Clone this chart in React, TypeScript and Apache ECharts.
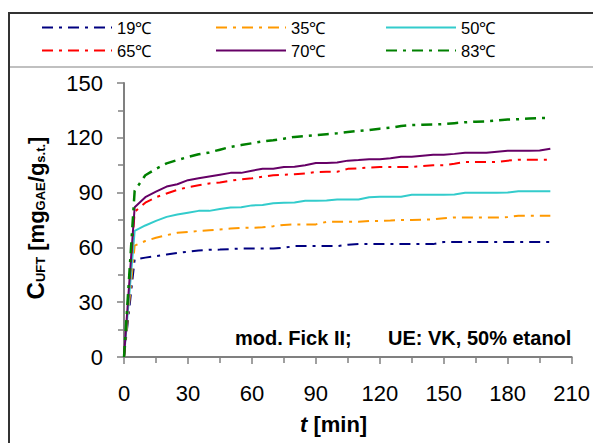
import React, { useEffect, useRef } from "react";
import * as echarts from "echarts";

const times = [0,5,10,15,20,25,30,35,40,45,50,55,60,65,70,75,80,85,90,95,100,105,110,115,120,125,130,135,140,145,150,155,160,165,170,175,180,185,190,195,200];

const c19 = [0,53.5,54.4,55.2,56.1,57.0,57.6,58.3,58.7,58.8,59.1,59.4,59.4,59.4,59.4,59.8,60.7,60.7,60.7,60.7,60.7,61.5,61.8,61.8,61.8,61.8,61.8,61.8,61.8,61.8,63.0,63.0,63.0,63.0,63.0,63.0,63.0,63.0,63.0,63.0,63.0];
const c35 = [0,61.0,63.5,65.3,66.7,68.0,68.5,69.0,69.4,69.8,70.3,70.7,70.7,71.0,71.6,72.3,72.6,72.6,72.6,74.0,74.0,74.0,74.0,74.5,74.5,74.7,75.0,75.0,75.2,75.3,76.0,76.4,76.4,76.4,76.4,76.4,76.6,77.3,77.3,77.3,77.3];
const c50 = [0,69.0,72.0,74.5,76.7,78.0,79.0,80.0,80.0,81.0,81.8,82.0,83.0,83.2,84.2,84.4,84.6,85.5,85.5,85.7,86.2,86.2,86.2,87.5,87.7,87.7,87.7,88.8,88.8,88.8,88.8,89.0,89.9,89.9,89.9,89.9,90.0,90.8,90.8,90.8,90.8];
const c65 = [0,79.5,84.5,87.5,89.5,91.5,93.0,94.0,95.0,95.5,96.5,97.3,97.8,98.7,99.5,99.8,100.0,100.5,101.3,101.4,101.4,103.0,103.3,103.7,104.0,104.0,104.0,104.0,104.5,105.0,105.0,105.8,106.8,106.8,106.8,106.8,107.5,108.0,108.0,108.0,108.0];
const c70 = [0,82.0,87.5,90.5,93.3,94.6,96.8,97.8,98.8,99.8,100.8,100.8,102.0,103.0,103.0,104.0,104.2,105.0,106.2,106.2,106.5,107.5,107.8,108.3,108.3,108.8,109.6,109.6,110.2,110.7,110.7,111.2,111.8,111.8,111.8,112.4,112.9,112.9,112.9,113.0,114.0];
const c83 = [0,91.0,99.5,103.0,106.0,107.8,109.5,111.0,112.0,113.5,115.0,116.0,117.0,118.0,118.7,119.5,120.5,121.0,121.5,122.0,122.5,123.2,123.8,124.3,125.0,125.5,126.5,127.0,127.2,127.3,127.5,128.0,128.5,128.8,129.0,129.5,130.0,130.2,130.5,130.8,131.0];

const seriesNames = ["19℃", "35℃", "50℃", "65℃", "70℃", "83℃"];
const seriesValues = [c19, c35, c50, c65, c70, c83];
const seriesColors = ["#000080", "#FF9900", "#33CCCC", "#FF0000", "#660066", "#008000"];
const seriesDash: (number[] | "solid")[] = [[11, 6, 3, 6], [11, 6, 3, 6], "solid", [11, 6, 3, 6], "solid", [11, 6, 3, 6]];
const seriesWidth = [2, 2, 2, 2, 2, 2.5];

const FONT = "'Liberation Sans', Arial, sans-serif";

export default function App() {
  const ref = useRef<HTMLDivElement>(null);
  useEffect(() => {
    if (!ref.current) return;
    const chart = echarts.init(ref.current, null, { renderer: "svg" });
    const series = seriesNames.map((name, i) => ({
      name,
      type: "line",
      data: times.map((t, j) => [t, seriesValues[i][j]]),
      symbol: "none",
      showSymbol: false,
      lineStyle: { color: seriesColors[i], width: seriesWidth[i], type: seriesDash[i] },
      itemStyle: { color: seriesColors[i] },
      z: 3,
    }));
    const legendCommon = {
      orient: "vertical",
      itemWidth: 70,
      itemHeight: 16,
      itemGap: 6,
      top: 19,
      itemStyle: { opacity: 0 },
      textStyle: { fontFamily: FONT, fontSize: 16.5, color: "#000", lineHeight: 16 },
      padding: 0,
    };
    chart.setOption({
      animation: false,
      backgroundColor: "#fff",
      legend: [
        { ...legendCommon, left: 41, data: ["19℃", "65℃"] },
        { ...legendCommon, left: 215, data: ["35℃", "70℃"] },
        { ...legendCommon, left: 385, data: ["50℃", "83℃"] },
      ],
      grid: { left: 124, right: 21, top: 83, bottom: 86, containLabel: false },
      xAxis: {
        type: "value",
        min: 0,
        max: 210,
        interval: 30,
        axisLine: { show: true, lineStyle: { color: "#808080", width: 2 } },
        axisTick: { show: true, length: 7, lineStyle: { color: "#808080", width: 1.5 } },
        minorTick: { show: true, splitNumber: 2, length: 6, lineStyle: { color: "#808080", width: 1.5 } },
        splitLine: { show: false },
        axisLabel: { fontFamily: FONT, fontSize: 22, color: "#000", margin: 25 },
      },
      yAxis: {
        type: "value",
        min: 0,
        max: 150,
        interval: 30,
        axisLine: { show: true, lineStyle: { color: "#808080", width: 2 } },
        axisTick: { show: true, length: 7, lineStyle: { color: "#808080", width: 1.5 } },
        minorTick: { show: true, splitNumber: 2, length: 6, lineStyle: { color: "#808080", width: 1.5 } },
        splitLine: { show: false },
        axisLabel: { fontFamily: FONT, fontSize: 22, color: "#000", margin: 21 },
      },
      graphic: [
        { type: "line", shape: { x1: 9, y1: 13, x2: 593, y2: 13 }, style: { stroke: "#333", lineWidth: 2 }, silent: true },
        { type: "line", shape: { x1: 9, y1: 12, x2: 9, y2: 443 }, style: { stroke: "#333", lineWidth: 2 }, silent: true },
        { type: "line", shape: { x1: 10, y1: 67, x2: 593, y2: 67 }, style: { stroke: "#c0c0c0", lineWidth: 2 }, silent: true },
        {
          type: "text",
          x: 34,
          y: 218,
          rotation: Math.PI / 2,
          style: {
            text: "{a|C}{s|UFT}{b| [mg}{s|GAE}{b|/g}{s|s.t.}{b|]}",
            textAlign: "center",
            textVerticalAlign: "middle",
            fill: "#000",
            rich: {
              a: { fontFamily: FONT, fontSize: 24, fontWeight: "bold", lineHeight: 26, verticalAlign: "bottom" },
              b: { fontFamily: FONT, fontSize: 22, fontWeight: "bold", lineHeight: 26, verticalAlign: "bottom" },
              s: { fontFamily: FONT, fontSize: 13, fontWeight: "bold", lineHeight: 13, verticalAlign: "bottom" },
            },
          },
          silent: true,
        },
        {
          type: "text",
          x: 300,
          y: 424,
          style: {
            text: "{i|t}{b| [min]}",
            textAlign: "left",
            textVerticalAlign: "middle",
            fill: "#000",
            rich: {
              i: { fontFamily: FONT, fontSize: 22, fontWeight: "bold", fontStyle: "italic" },
              b: { fontFamily: FONT, fontSize: 22, fontWeight: "bold" },
            },
          },
          silent: true,
        },
        {
          type: "text",
          x: 235,
          y: 338,
          style: { text: "mod. Fick II;", font: `bold 20px ${FONT}`, fill: "#000", textAlign: "left", textVerticalAlign: "middle" },
          silent: true,
        },
        {
          type: "text",
          x: 388,
          y: 338,
          style: { text: "UE: VK, 50% etanol", font: `bold 20px ${FONT}`, fill: "#000", textAlign: "left", textVerticalAlign: "middle" },
          silent: true,
        },
      ],
      series,
    });
    return () => chart.dispose();
  }, []);
  return <div ref={ref} style={{ position: "fixed", left: 0, top: 0, width: 593, height: 443 }} />;
}
